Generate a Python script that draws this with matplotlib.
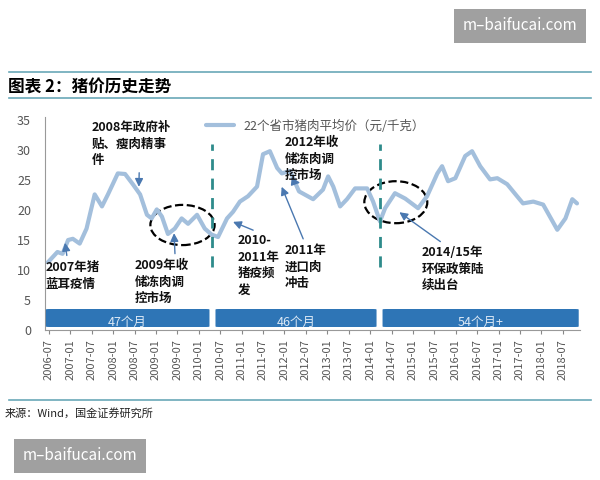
import matplotlib
matplotlib.use("Agg")
import matplotlib.pyplot as plt
from matplotlib.patches import FancyBboxPatch, Ellipse

plt.rcParams['font.family'] = ['Noto Sans CJK SC', 'DejaVu Sans']

t = [2006.48, 2006.7, 2006.82, 2006.95, 2007.06, 2007.22, 2007.38, 2007.57, 2007.74, 2007.88,
     2008.11, 2008.28, 2008.46, 2008.63, 2008.79, 2008.9, 2009.02, 2009.14, 2009.28, 2009.44,
     2009.6, 2009.75, 2009.96, 2010.14, 2010.3, 2010.45, 2010.66, 2010.8, 2010.96, 2011.15,
     2011.36, 2011.5, 2011.66, 2011.83, 2011.94, 2012.13, 2012.34, 2012.67, 2012.9, 2013.02,
     2013.14, 2013.3, 2013.46, 2013.65, 2013.93, 2014.07, 2014.23, 2014.35, 2014.58, 2014.82,
     2015.12, 2015.33, 2015.57, 2015.68, 2015.82, 2015.99, 2016.22, 2016.38, 2016.57, 2016.8,
     2016.97, 2017.2, 2017.43, 2017.57, 2017.81, 2018.04, 2018.37, 2018.56, 2018.72, 2018.83]
price = [11.3, 13.0, 12.7, 15.0, 15.2, 14.4, 16.9, 22.6, 20.6, 22.6,
         26.1, 26.0, 24.3, 22.6, 19.2, 18.6, 20.1, 18.9, 16.0, 16.9,
         18.6, 17.7, 19.2, 16.9, 15.9, 15.5, 18.6, 19.7, 21.4, 22.3,
         23.9, 29.3, 29.8, 27.0, 26.1, 26.5, 23.1, 21.8, 23.4, 25.6,
         23.9, 20.6, 21.8, 23.6, 23.6, 21.4, 18.1, 20.3, 22.8, 21.9,
         20.3, 22.3, 26.1, 27.3, 24.8, 25.3, 29.0, 29.8, 27.3, 25.1,
         25.3, 24.3, 22.3, 21.1, 21.4, 20.9, 16.7, 18.6, 21.8, 21.1]
cycle_labels = ["47个月", "46个月", "54个月+"]
cycle_start = [2006.4, 2010.36, 2014.26]
cycle_end = [2010.28, 2014.18, 2018.9]
divider_x = [2010.31, 2014.23]
tick_pos = [2006.5 + 0.5 * i for i in range(25)]
tick_labels = [f"{2006 + (i + 1)//2}-{'07' if i % 2 == 0 else '01'}" for i in range(25)]

fig = plt.figure(figsize=(6, 4.8), dpi=100)
W, H = 600, 480
ax = fig.add_axes([45/W, 1-330/H, 535/W, (330-117)/H])
ax.set_xlim(2006.41, 2018.9)
ax.set_ylim(0, 35.5)
ax.plot(t, price, color='#a3bfdc', lw=3, solid_capstyle='round', label='22个省市猪肉平均价（元/千克）')
for s, e, lab in zip(cycle_start, cycle_end, cycle_labels):
    ax.add_patch(FancyBboxPatch((s+0.03, 0.5), e-s-0.06, 3.0,
                                boxstyle="round,pad=0,rounding_size=0.08", mutation_aspect=1,
                                fc='#2e75b6', ec='none', zorder=3))
    ax.text((s+e)/2, 1.3, lab, color='#dbe8f5', fontsize=9, ha='center', va='center', zorder=4)
for x in divider_x:
    ax.plot([x, x], [10.5, 31], color='#2e8b8b', lw=2, ls=(0, (4, 3)))
ax.add_patch(Ellipse((2009.62, 17.5), 1.5, 6.7, fill=False, ls='--', lw=1.6, ec='black'))
ax.add_patch(Ellipse((2014.6, 21.3), 1.47, 7.0, fill=False, ls='--', lw=1.6, ec='black'))

akw = dict(fontsize=9, fontweight='bold', color='#111111', linespacing=1.35)
arr = dict(arrowstyle='-|>', color='#4a78b0', lw=1, mutation_scale=12)
ax.annotate("2008年政府补\n贴、瘦肉精事\n件", xy=(2008.6, 23.4), xytext=(2007.5, 34.8), va='top',
            arrowprops=dict(**arr, relpos=(0.6, 0.0)), **akw)
ax.annotate("2007年猪\n蓝耳疫情", xy=(2006.87, 15.0), xytext=(2006.43, 11.5), va='top',
            arrowprops=dict(**arr, relpos=(0.4, 1.0)), **akw)
ax.annotate("2009年收\n储冻肉调\n控市场", xy=(2009.42, 16.6), xytext=(2008.5, 11.8), va='top',
            arrowprops=dict(**arr, relpos=(0.75, 1.0)), **akw)
ax.annotate("2010-\n2011年\n猪疫频\n发", xy=(2010.74, 18.2), xytext=(2010.9, 16.0), va='top',
            arrowprops=dict(**arr, relpos=(0.6, 1.0)), **akw)
ax.annotate("2012年收\n储冻肉调\n控市场", xy=(2012.43, 24.5), xytext=(2012.0, 32.3), va='top',
            arrowprops=dict(**arr, relpos=(0.2, 0.0)), **akw)
ax.annotate("2011年\n进口肉\n冲击", xy=(2011.91, 24.3), xytext=(2012.0, 14.3), va='top',
            arrowprops=dict(**arr, relpos=(0.5, 1.0)), **akw)
ax.annotate("2014/15年\n环保政策陆\n续出台", xy=(2014.63, 19.9), xytext=(2015.2, 14.0), va='top',
            arrowprops=dict(**arr, relpos=(0.4, 1.0)), **akw)

ax.legend(loc='upper left', bbox_to_anchor=(0.28, 1.04), frameon=False, fontsize=9,
          handlelength=2.2, labelcolor='#555555')
ax.set_yticks(range(0, 36, 5))
ax.set_xticks(tick_pos)
ax.set_xticklabels(tick_labels, rotation=90, fontsize=8, color='#555555')
ax.tick_params(axis='y', labelsize=9, colors='#555555', length=0, pad=10)
ax.tick_params(axis='x', length=3, color='#888888')
for s in ['top', 'right']:
    ax.spines[s].set_visible(False)
for s in ['left', 'bottom']:
    ax.spines[s].set_color('#999999')

fig.add_artist(plt.Line2D([0.015, 0.985], [1-72/H]*2, color='#6aa8b8', lw=1.2))
fig.add_artist(plt.Line2D([0.015, 0.985], [1-98/H]*2, color='#6aa8b8', lw=1.2))
fig.add_artist(plt.Line2D([0.015, 0.985], [1-400/H]*2, color='#6aa8b8', lw=1.2))
fig.text(8/W, 1-87/H, "图表 2：猪价历史走势", fontsize=12, fontweight='bold', style='italic', va='center')
fig.text(5/W, 1-413/H, "来源：Wind，国金证券研究所", fontsize=8, va='center', color='#222222')
fig.text(520/W, 1-26/H, "m–baifucai.com", fontsize=11, color='white', ha='center', va='center',
         bbox=dict(boxstyle='square,pad=0.55', fc='#a0a0a0', ec='none'))
fig.text(80/W, 1-456/H, "m–baifucai.com", fontsize=11, color='white', ha='center', va='center',
         bbox=dict(boxstyle='square,pad=0.55', fc='#a0a0a0', ec='none'))
fig.savefig("out.png", dpi=100)
